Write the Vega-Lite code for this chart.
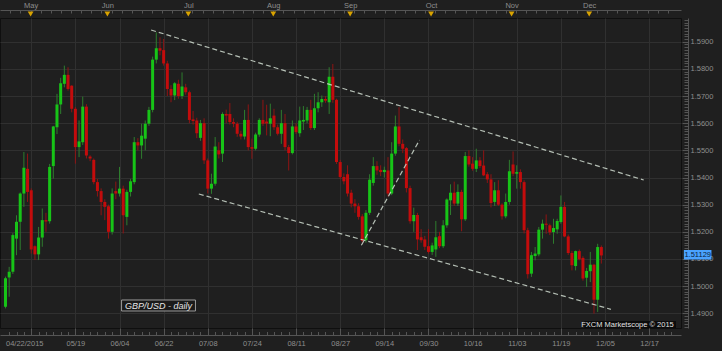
{
  "$schema": "https://vega.github.io/schema/vega-lite/v6.json",
  "width": 681,
  "height": 310,
  "autosize": {"type": "none"},
  "padding": {"left": 0, "top": 18, "right": 41, "bottom": 23},
  "background": "#1f1f1f",
  "config": {
    "view": {"stroke": "#0f0f0f", "strokeWidth": 1},
    "axis": {"labelFont": "Liberation Sans", "labelFontSize": 7.5, "labelColor": "#8e8e8e", "domainColor": "#555555", "tickColor": "#555555", "gridColor": "#303030", "labelOverlap": false, "title": null},
    "text": {"font": "Liberation Sans"}
  },
  "datasets": {
    "candles": [
      {"i":0,"o":1.4924,"h":1.5035,"l":1.4918,"c":1.5029},
      {"i":1,"o":1.5032,"h":1.5071,"l":1.4961,"c":1.5053},
      {"i":2,"o":1.5053,"h":1.5195,"l":1.5045,"c":1.5188},
      {"i":3,"o":1.5175,"h":1.5261,"l":1.5114,"c":1.5237},
      {"i":4,"o":1.5237,"h":1.5345,"l":1.5133,"c":1.5341},
      {"i":5,"o":1.5341,"h":1.5494,"l":1.5292,"c":1.5436},
      {"i":6,"o":1.5432,"h":1.5488,"l":1.5310,"c":1.5347},
      {"i":7,"o":1.5353,"h":1.5360,"l":1.5120,"c":1.5135},
      {"i":8,"o":1.5147,"h":1.5150,"l":1.5096,"c":1.5117},
      {"i":9,"o":1.5117,"h":1.5218,"l":1.5096,"c":1.5179},
      {"i":10,"o":1.5179,"h":1.5286,"l":1.5145,"c":1.5243},
      {"i":11,"o":1.5243,"h":1.5270,"l":1.5200,"c":1.5238},
      {"i":12,"o":1.5239,"h":1.5450,"l":1.5230,"c":1.5439},
      {"i":13,"o":1.5442,"h":1.5590,"l":1.5396,"c":1.5588},
      {"i":14,"o":1.5585,"h":1.5708,"l":1.5560,"c":1.5669},
      {"i":15,"o":1.5669,"h":1.5767,"l":1.5634,"c":1.5747},
      {"i":16,"o":1.5745,"h":1.5812,"l":1.5732,"c":1.5778},
      {"i":17,"o":1.5778,"h":1.5806,"l":1.5720,"c":1.5726},
      {"i":18,"o":1.5738,"h":1.5740,"l":1.5640,"c":1.5653},
      {"i":19,"o":1.5653,"h":1.5660,"l":1.5451,"c":1.5512},
      {"i":20,"o":1.5512,"h":1.5610,"l":1.5475,"c":1.5533},
      {"i":21,"o":1.5530,"h":1.5698,"l":1.5520,"c":1.5661},
      {"i":22,"o":1.5661,"h":1.5670,"l":1.5470,"c":1.5481},
      {"i":23,"o":1.5477,"h":1.5482,"l":1.5460,"c":1.5470},
      {"i":24,"o":1.5465,"h":1.5470,"l":1.5375,"c":1.5383},
      {"i":25,"o":1.5383,"h":1.5395,"l":1.5330,"c":1.5350},
      {"i":26,"o":1.5350,"h":1.5360,"l":1.5261,"c":1.5310},
      {"i":27,"o":1.5310,"h":1.5320,"l":1.5243,"c":1.5292},
      {"i":28,"o":1.5294,"h":1.5300,"l":1.5175,"c":1.5200},
      {"i":29,"o":1.5200,"h":1.5360,"l":1.5190,"c":1.5341},
      {"i":30,"o":1.5350,"h":1.5385,"l":1.5320,"c":1.5341},
      {"i":31,"o":1.5341,"h":1.5439,"l":1.5330,"c":1.5359},
      {"i":32,"o":1.5359,"h":1.5370,"l":1.5194,"c":1.5261},
      {"i":33,"o":1.5255,"h":1.5355,"l":1.5224,"c":1.5347},
      {"i":34,"o":1.5347,"h":1.5395,"l":1.5330,"c":1.5386},
      {"i":35,"o":1.5383,"h":1.5549,"l":1.5375,"c":1.5530},
      {"i":36,"o":1.5530,"h":1.5545,"l":1.5500,"c":1.5518},
      {"i":37,"o":1.5518,"h":1.5598,"l":1.5469,"c":1.5554},
      {"i":38,"o":1.5543,"h":1.5610,"l":1.5500,"c":1.5598},
      {"i":39,"o":1.5598,"h":1.5660,"l":1.5590,"c":1.5649},
      {"i":40,"o":1.5649,"h":1.5845,"l":1.5640,"c":1.5834},
      {"i":41,"o":1.5834,"h":1.5934,"l":1.5820,"c":1.5876},
      {"i":42,"o":1.5876,"h":1.5916,"l":1.5850,"c":1.5867},
      {"i":43,"o":1.5869,"h":1.5910,"l":1.5812,"c":1.5820},
      {"i":44,"o":1.5820,"h":1.5830,"l":1.5700,"c":1.5726},
      {"i":45,"o":1.5726,"h":1.5740,"l":1.5677,"c":1.5702},
      {"i":46,"o":1.5702,"h":1.5751,"l":1.5685,"c":1.5747},
      {"i":47,"o":1.5745,"h":1.5760,"l":1.5690,"c":1.5700},
      {"i":48,"o":1.5700,"h":1.5787,"l":1.5689,"c":1.5735},
      {"i":49,"o":1.5732,"h":1.5745,"l":1.5705,"c":1.5714},
      {"i":50,"o":1.5714,"h":1.5720,"l":1.5600,"c":1.5612},
      {"i":51,"o":1.5614,"h":1.5645,"l":1.5595,"c":1.5608},
      {"i":52,"o":1.5610,"h":1.5620,"l":1.5545,"c":1.5563},
      {"i":53,"o":1.5546,"h":1.5612,"l":1.5535,"c":1.5600},
      {"i":54,"o":1.5600,"h":1.5618,"l":1.5450,"c":1.5463},
      {"i":55,"o":1.5463,"h":1.5470,"l":1.5341,"c":1.5359},
      {"i":56,"o":1.5359,"h":1.5414,"l":1.5340,"c":1.5377},
      {"i":57,"o":1.5377,"h":1.5549,"l":1.5370,"c":1.5514},
      {"i":58,"o":1.5500,"h":1.5530,"l":1.5470,"c":1.5485},
      {"i":59,"o":1.5488,"h":1.5640,"l":1.5457,"c":1.5634},
      {"i":60,"o":1.5634,"h":1.5650,"l":1.5600,"c":1.5628},
      {"i":61,"o":1.5634,"h":1.5674,"l":1.5595,"c":1.5604},
      {"i":62,"o":1.5604,"h":1.5618,"l":1.5585,"c":1.5598},
      {"i":63,"o":1.5598,"h":1.5605,"l":1.5550,"c":1.5561},
      {"i":64,"o":1.5561,"h":1.5572,"l":1.5540,"c":1.5551},
      {"i":65,"o":1.5551,"h":1.5649,"l":1.5540,"c":1.5612},
      {"i":66,"o":1.5612,"h":1.5669,"l":1.5500,"c":1.5512},
      {"i":67,"o":1.5512,"h":1.5543,"l":1.5469,"c":1.5506},
      {"i":68,"o":1.5506,"h":1.5565,"l":1.5500,"c":1.5558},
      {"i":69,"o":1.5558,"h":1.5618,"l":1.5550,"c":1.5612},
      {"i":70,"o":1.5612,"h":1.5686,"l":1.5590,"c":1.5598},
      {"i":71,"o":1.5606,"h":1.5668,"l":1.5555,"c":1.5599},
      {"i":72,"o":1.5598,"h":1.5672,"l":1.5552,"c":1.5618},
      {"i":73,"o":1.5628,"h":1.5653,"l":1.5575,"c":1.5585},
      {"i":74,"o":1.5585,"h":1.5595,"l":1.5555,"c":1.5561},
      {"i":75,"o":1.5561,"h":1.5649,"l":1.5524,"c":1.5600},
      {"i":76,"o":1.5600,"h":1.5634,"l":1.5500,"c":1.5512},
      {"i":77,"o":1.5512,"h":1.5520,"l":1.5426,"c":1.5490},
      {"i":78,"o":1.5490,"h":1.5610,"l":1.5485,"c":1.5588},
      {"i":79,"o":1.5588,"h":1.5600,"l":1.5560,"c":1.5567},
      {"i":80,"o":1.5563,"h":1.5661,"l":1.5550,"c":1.5610},
      {"i":81,"o":1.5606,"h":1.5663,"l":1.5575,"c":1.5612},
      {"i":82,"o":1.5610,"h":1.5660,"l":1.5600,"c":1.5649},
      {"i":83,"o":1.5649,"h":1.5686,"l":1.5575,"c":1.5582},
      {"i":84,"o":1.5582,"h":1.5708,"l":1.5575,"c":1.5655},
      {"i":85,"o":1.5655,"h":1.5714,"l":1.5640,"c":1.5677},
      {"i":86,"o":1.5677,"h":1.5702,"l":1.5660,"c":1.5689},
      {"i":87,"o":1.5689,"h":1.5700,"l":1.5675,"c":1.5683},
      {"i":88,"o":1.5677,"h":1.5806,"l":1.5634,"c":1.5771},
      {"i":89,"o":1.5771,"h":1.5818,"l":1.5675,"c":1.5686},
      {"i":90,"o":1.5686,"h":1.5690,"l":1.5450,"c":1.5457},
      {"i":91,"o":1.5457,"h":1.5465,"l":1.5395,"c":1.5402},
      {"i":92,"o":1.5402,"h":1.5415,"l":1.5375,"c":1.5386},
      {"i":93,"o":1.5412,"h":1.5445,"l":1.5330,"c":1.5341},
      {"i":94,"o":1.5344,"h":1.5355,"l":1.5290,"c":1.5304},
      {"i":95,"o":1.5304,"h":1.5320,"l":1.5270,"c":1.5294},
      {"i":96,"o":1.5294,"h":1.5305,"l":1.5245,"c":1.5255},
      {"i":97,"o":1.5257,"h":1.5265,"l":1.5160,"c":1.5167},
      {"i":98,"o":1.5169,"h":1.5280,"l":1.5160,"c":1.5270},
      {"i":99,"o":1.5270,"h":1.5412,"l":1.5262,"c":1.5392},
      {"i":100,"o":1.5380,"h":1.5475,"l":1.5370,"c":1.5442},
      {"i":101,"o":1.5442,"h":1.5460,"l":1.5410,"c":1.5426},
      {"i":102,"o":1.5428,"h":1.5445,"l":1.5405,"c":1.5420},
      {"i":103,"o":1.5420,"h":1.5440,"l":1.5400,"c":1.5428},
      {"i":104,"o":1.5426,"h":1.5475,"l":1.5330,"c":1.5341},
      {"i":105,"o":1.5341,"h":1.5530,"l":1.5335,"c":1.5488},
      {"i":106,"o":1.5488,"h":1.5628,"l":1.5480,"c":1.5588},
      {"i":107,"o":1.5588,"h":1.5659,"l":1.5515,"c":1.5524},
      {"i":108,"o":1.5524,"h":1.5540,"l":1.5490,"c":1.5506},
      {"i":109,"o":1.5508,"h":1.5512,"l":1.5345,"c":1.5361},
      {"i":110,"o":1.5361,"h":1.5370,"l":1.5230,"c":1.5239},
      {"i":111,"o":1.5239,"h":1.5289,"l":1.5200,"c":1.5262},
      {"i":112,"o":1.5262,"h":1.5270,"l":1.5133,"c":1.5172},
      {"i":113,"o":1.5180,"h":1.5210,"l":1.5160,"c":1.5169},
      {"i":114,"o":1.5172,"h":1.5185,"l":1.5133,"c":1.5145},
      {"i":115,"o":1.5147,"h":1.5210,"l":1.5120,"c":1.5126},
      {"i":116,"o":1.5126,"h":1.5160,"l":1.5115,"c":1.5150},
      {"i":117,"o":1.5135,"h":1.5240,"l":1.5108,"c":1.5180},
      {"i":118,"o":1.5184,"h":1.5200,"l":1.5140,"c":1.5147},
      {"i":119,"o":1.5147,"h":1.5243,"l":1.5140,"c":1.5224},
      {"i":120,"o":1.5224,"h":1.5323,"l":1.5215,"c":1.5319},
      {"i":121,"o":1.5316,"h":1.5375,"l":1.5262,"c":1.5344},
      {"i":122,"o":1.5344,"h":1.5385,"l":1.5295,"c":1.5304},
      {"i":123,"o":1.5304,"h":1.5375,"l":1.5295,"c":1.5347},
      {"i":124,"o":1.5347,"h":1.5355,"l":1.5202,"c":1.5246},
      {"i":125,"o":1.5246,"h":1.5494,"l":1.5240,"c":1.5479},
      {"i":126,"o":1.5479,"h":1.5500,"l":1.5440,"c":1.5448},
      {"i":127,"o":1.5451,"h":1.5475,"l":1.5425,"c":1.5432},
      {"i":128,"o":1.5432,"h":1.5506,"l":1.5420,"c":1.5463},
      {"i":129,"o":1.5463,"h":1.5475,"l":1.5435,"c":1.5442},
      {"i":130,"o":1.5444,"h":1.5500,"l":1.5405,"c":1.5408},
      {"i":131,"o":1.5412,"h":1.5420,"l":1.5380,"c":1.5393},
      {"i":132,"o":1.5393,"h":1.5412,"l":1.5290,"c":1.5306},
      {"i":133,"o":1.5310,"h":1.5383,"l":1.5295,"c":1.5353},
      {"i":134,"o":1.5353,"h":1.5390,"l":1.5295,"c":1.5300},
      {"i":135,"o":1.5300,"h":1.5305,"l":1.5245,"c":1.5257},
      {"i":136,"o":1.5257,"h":1.5341,"l":1.5250,"c":1.5310},
      {"i":137,"o":1.5310,"h":1.5465,"l":1.5300,"c":1.5423},
      {"i":138,"o":1.5448,"h":1.5496,"l":1.5405,"c":1.5414},
      {"i":139,"o":1.5414,"h":1.5445,"l":1.5359,"c":1.5420},
      {"i":140,"o":1.5420,"h":1.5430,"l":1.5359,"c":1.5383},
      {"i":141,"o":1.5383,"h":1.5390,"l":1.5194,"c":1.5206},
      {"i":142,"o":1.5206,"h":1.5215,"l":1.5028,"c":1.5044},
      {"i":143,"o":1.5046,"h":1.5126,"l":1.5034,"c":1.5114},
      {"i":144,"o":1.5111,"h":1.5144,"l":1.5095,"c":1.5120},
      {"i":145,"o":1.5117,"h":1.5218,"l":1.5110,"c":1.5208},
      {"i":146,"o":1.5208,"h":1.5245,"l":1.5175,"c":1.5230},
      {"i":147,"o":1.5230,"h":1.5264,"l":1.5193,"c":1.5226},
      {"i":148,"o":1.5224,"h":1.5230,"l":1.5188,"c":1.5198},
      {"i":149,"o":1.5199,"h":1.5248,"l":1.5156,"c":1.5214},
      {"i":150,"o":1.5209,"h":1.5248,"l":1.5193,"c":1.5240},
      {"i":151,"o":1.5236,"h":1.5334,"l":1.5230,"c":1.5292},
      {"i":152,"o":1.5292,"h":1.5310,"l":1.5180,"c":1.5183},
      {"i":153,"o":1.5183,"h":1.5190,"l":1.5115,"c":1.5122},
      {"i":154,"o":1.5122,"h":1.5130,"l":1.5058,"c":1.5077},
      {"i":155,"o":1.5074,"h":1.5131,"l":1.5058,"c":1.5129},
      {"i":156,"o":1.5129,"h":1.5135,"l":1.5095,"c":1.5099},
      {"i":157,"o":1.5104,"h":1.5110,"l":1.5020,"c":1.5028},
      {"i":158,"o":1.5031,"h":1.5067,"l":1.4997,"c":1.5056},
      {"i":159,"o":1.5055,"h":1.5126,"l":1.5015,"c":1.5079},
      {"i":160,"o":1.5079,"h":1.5082,"l":1.4899,"c":1.4950},
      {"i":161,"o":1.4950,"h":1.5156,"l":1.4905,"c":1.5144},
      {"i":162,"o":1.5144,"h":1.5150,"l":1.5083,"c":1.5113}
    ],
    "lines": [
      {"xa": 39.59, "pa": 1.59431, "xb": 173.53, "pb": 1.53908},
      {"xa": 52.56, "pa": 1.53393, "xb": 164.6, "pb": 1.49147},
      {"xa": 96.76, "pa": 1.51504, "xb": 112.56, "pb": 1.55381}
    ],
    "months": [
      {"m": "May", "i": 6.83}, {"m": "Jun", "i": 27.7}, {"m": "Jul", "i": 49.7}, {"m": "Aug", "i": 72.8},
      {"m": "Sep", "i": 93.7}, {"m": "Oct", "i": 115.7}, {"m": "Nov", "i": 137.6}, {"m": "Dec", "i": 158.7}
    ],
    "last": [{"p": 1.51129, "t": "1.51129"}],
    "notes": [{"t": "FXCM Marketscope © 2015"}],
    "title": [{"t": "GBP/USD - daily"}]
  },
  "resolve": {"axis": {"x": "independent", "y": "independent"}},
  "layer": [
    {
      "data": {"name": "candles"},
      "mark": {"type": "rule", "strokeWidth": 1},
      "encoding": {
        "x": {"field": "i", "type": "quantitative", "scale": {"domain": [-0.134, 182.3], "nice": false, "zero": false},
          "axis": {"orient": "bottom", "values": [7,19,31,43,55,67,79,91,103,115,127,139,151,163,175], "grid": true, "ticks": true, "tickSize": 7, "domain": false, "labels": false}},
        "y": {"field": "l", "type": "quantitative", "scale": {"domain": [1.48459, 1.59873], "nice": false, "zero": false},
          "axis": {"orient": "right", "values": [1.49,1.5,1.51,1.52,1.53,1.54,1.55,1.56,1.57,1.58,1.59], "grid": true, "ticks": true, "tickSize": 6, "offset": 1, "domain": false, "labels": false}},
        "y2": {"field": "h"},
        "color": {"condition": {"test": "datum.c >= datum.o", "value": "#2e7d2e"}, "value": "#8f1414"}
      }
    },
    {
      "data": {"name": "candles"},
      "mark": {"type": "bar", "width": 3},
      "encoding": {
        "x": {"field": "i", "type": "quantitative", "scale": {"domain": [-0.134, 182.3], "nice": false, "zero": false},
          "axis": {"orient": "bottom", "values": [1,3,5,7,9,11,13,15,17,19,21,23,25,27,29,31,33,35,37,39,41,43,45,47,49,51,53,55,57,59,61,63,65,67,69,71,73,75,77,79,81,83,85,87,89,91,93,95,97,99,101,103,105,107,109,111,113,115,117,119,121,123,125,127,129,131,133,135,137,139,141,143,145,147,149,151,153,155,157,159,161,163,165,167,169,171,173,175,177,179,181], "grid": false, "ticks": true, "tickSize": 3.5, "offset": 3.5, "domain": false, "labels": false}},
        "y": {"field": "o", "type": "quantitative", "scale": {"domain": [1.48459, 1.59873], "nice": false, "zero": false},
          "axis": {"orient": "right", "tickCount": 114, "grid": false, "ticks": true, "tickSize": 4, "offset": 3, "domain": false, "labels": false}},
        "y2": {"field": "c"},
        "color": {"condition": {"test": "datum.c >= datum.o", "value": "#17c417"}, "value": "#c30c0c"}
      }
    },
    {
      "data": {"name": "lines"},
      "mark": {"type": "rule", "strokeWidth": 1.2, "strokeDash": [5, 3], "color": "#c5d0c5", "opacity": 0.9},
      "encoding": {
        "x": {"field": "xa", "type": "quantitative", "scale": {"domain": [-0.134, 182.3], "nice": false, "zero": false},
          "axis": {"orient": "bottom", "values": [0,19,31,43,55,67,79,91,103,115,127,139,151,163,175], "grid": false, "ticks": false, "tickSize": 0, "offset": 7, "domain": true, "labels": true, "labelPadding": 4,
            "labelAlign": {"condition": {"test": "datum.value == 0", "value": "left"}, "value": "center"},
            "labelExpr": "datum.value == 0 ? '04/22/2015' : datum.value == 19 ? '05/19' : datum.value == 31 ? '06/04' : datum.value == 43 ? '06/22' : datum.value == 55 ? '07/08' : datum.value == 67 ? '07/24' : datum.value == 79 ? '08/11' : datum.value == 91 ? '08/27' : datum.value == 103 ? '09/14' : datum.value == 115 ? '09/30' : datum.value == 127 ? '10/16' : datum.value == 139 ? '11/03' : datum.value == 151 ? '11/19' : datum.value == 163 ? '12/05' : '12/17'"}},
        "x2": {"field": "xb"},
        "y": {"field": "pa", "type": "quantitative", "scale": {"domain": [1.48459, 1.59873], "nice": false, "zero": false},
          "axis": {"orient": "right", "values": [1.49,1.5,1.51,1.52,1.53,1.54,1.55,1.56,1.57,1.58,1.59], "grid": false, "ticks": false, "tickSize": 0, "offset": 7, "domain": true, "labels": true, "labelPadding": 2, "format": ".4f"}},
        "y2": {"field": "pb"}
      }
    },
    {
      "data": {"name": "months"},
      "mark": {"type": "point", "shape": "triangle-down", "filled": true, "size": 34, "color": "#d9a300", "opacity": 1},
      "encoding": {
        "x": {"field": "i", "type": "quantitative", "scale": {"domain": [-0.134, 182.3], "nice": false, "zero": false},
          "axis": {"orient": "top", "values": [6.83, 27.7, 49.7, 72.8, 93.7, 115.7, 137.6, 158.7], "grid": false, "ticks": false, "tickSize": 0, "offset": 8, "domain": true, "labels": true, "labelPadding": 1,
            "labelExpr": "datum.value < 15 ? 'May' : datum.value < 40 ? 'Jun' : datum.value < 60 ? 'Jul' : datum.value < 80 ? 'Aug' : datum.value < 100 ? 'Sep' : datum.value < 125 ? 'Oct' : datum.value < 145 ? 'Nov' : 'Dec'"}},
        "y": {"datum": 1.6002, "type": "quantitative", "scale": {"domain": [1.48459, 1.59873], "nice": false, "zero": false}, "axis": null}
      }
    },
    {
      "data": {"name": "last"},
      "mark": {"type": "rect", "color": "#4aa3ff"},
      "encoding": {
        "x": {"datum": 184.44, "type": "quantitative", "scale": {"domain": [-0.134, 182.3], "nice": false, "zero": false},
          "axis": {"orient": "top", "values": [1.33,4.08,6.83,9.58,12.33,15.08,17.83,20.58,23.33,26.08,28.83,31.58,34.33,37.08,39.83,42.58,45.33,48.08,50.83,53.58,56.33,59.08,61.83,64.58,67.33,70.08,72.83,75.58,78.33,81.08,83.83,86.58,89.33,92.08,94.83,97.58,100.33,103.08,105.83,108.58,111.33,114.08,116.83,119.58,122.33,125.08,127.83,130.58,133.33,136.08,138.83,141.58,144.33,147.08,149.83,152.58,155.33,158.08,160.83,163.58,166.33,169.08,171.83,174.58,177.33,180.08], "grid": false, "ticks": true, "tickSize": 3, "offset": 5, "domain": false, "labels": false}},
        "x2": {"datum": 191.94},
        "y": {"datum": 1.5133, "type": "quantitative", "scale": {"domain": [1.48459, 1.59873], "nice": false, "zero": false}, "axis": null},
        "y2": {"datum": 1.5098}
      }
    },
    {
      "data": {"name": "last"},
      "mark": {"type": "text", "fontSize": 7.5, "color": "#0b2240", "align": "center", "baseline": "middle"},
      "encoding": {
        "x": {"datum": 188.2, "type": "quantitative", "scale": {"domain": [-0.134, 182.3], "nice": false, "zero": false}, "axis": null},
        "y": {"field": "p", "type": "quantitative", "scale": {"domain": [1.48459, 1.59873], "nice": false, "zero": false}, "axis": null},
        "text": {"field": "t"}
      }
    },
    {
      "data": {"name": "notes"},
      "mark": {"type": "rect", "color": "#0b0b0b"},
      "encoding": {
        "x": {"datum": 157.4, "type": "quantitative", "scale": {"domain": [-0.134, 182.3], "nice": false, "zero": false}, "axis": null},
        "x2": {"datum": 182.3},
        "y": {"datum": 1.48716, "type": "quantitative", "scale": {"domain": [1.48459, 1.59873], "nice": false, "zero": false}, "axis": null},
        "y2": {"datum": 1.48459}
      }
    },
    {
      "data": {"name": "notes"},
      "mark": {"type": "text", "fontSize": 7.5, "color": "#e2e2e2", "align": "right", "baseline": "middle"},
      "encoding": {
        "x": {"datum": 181.7, "type": "quantitative", "scale": {"domain": [-0.134, 182.3], "nice": false, "zero": false}, "axis": null},
        "y": {"datum": 1.48575, "type": "quantitative", "scale": {"domain": [1.48459, 1.59873], "nice": false, "zero": false}, "axis": null},
        "text": {"field": "t"}
      }
    },
    {
      "data": {"name": "title"},
      "mark": {"type": "rect", "fill": "#1a1a1a", "stroke": "#9a9a9a", "strokeWidth": 1},
      "encoding": {
        "x": {"datum": 31.56, "type": "quantitative", "scale": {"domain": [-0.134, 182.3], "nice": false, "zero": false}, "axis": null},
        "x2": {"datum": 51.65},
        "y": {"datum": 1.4949, "type": "quantitative", "scale": {"domain": [1.48459, 1.59873], "nice": false, "zero": false}, "axis": null},
        "y2": {"datum": 1.49085}
      }
    },
    {
      "data": {"name": "title"},
      "mark": {"type": "text", "fontSize": 9, "fontStyle": "italic", "color": "#e6e6e6", "align": "center", "baseline": "middle"},
      "encoding": {
        "x": {"datum": 41.6, "type": "quantitative", "scale": {"domain": [-0.134, 182.3], "nice": false, "zero": false}, "axis": null},
        "y": {"datum": 1.49287, "type": "quantitative", "scale": {"domain": [1.48459, 1.59873], "nice": false, "zero": false}, "axis": null},
        "text": {"field": "t"}
      }
    }
  ]
}
